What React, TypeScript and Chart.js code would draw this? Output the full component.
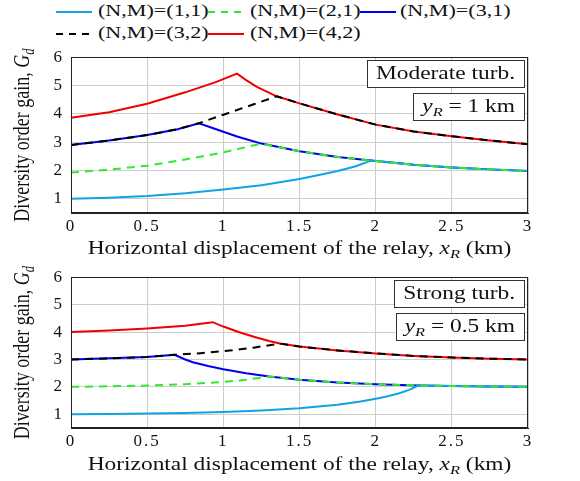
import { useEffect, useRef } from 'react';
import { Chart, registerables } from 'chart.js';

Chart.register(...registerables);

const FONT = '"Liberation Serif", "Times New Roman", serif';
const SX = 1.3;

const xTickValues = [0, 0.5, 1, 1.5, 2, 2.5, 3];
const yTickValues = [1, 2, 3, 4, 5, 6];
const xRange = [0, 3];
const yRange = [0.5, 6];

const seriesLabels = ['(N,M)=(1,1)', '(N,M)=(2,1)', '(N,M)=(3,1)', '(N,M)=(3,2)', '(N,M)=(4,2)'];
const seriesColors = ['#14a2e6', '#2eea2e', '#0000f0', '#000000', '#f20000'];
const seriesDashed = [false, true, false, true, false];
const seriesOrder = [3, 1, 5, 2, 4];

// Moderate turbulence, y_R = 1 km : [x_R (km), G_d]
const moderateN1M1: [number, number][] = [[0, 1.0], [0.25, 1.04], [0.5, 1.1], [0.75, 1.2], [1, 1.33], [1.25, 1.48], [1.5, 1.7], [1.62, 1.83], [1.75, 1.98], [1.87, 2.15], [1.97, 2.35], [2.25, 2.2], [2.5, 2.11], [2.75, 2.04], [3, 1.98]];
const moderateN2M1: [number, number][] = [[0, 1.93], [0.25, 2.03], [0.5, 2.17], [0.75, 2.39], [1, 2.64], [1.25, 2.95], [1.5, 2.68], [1.75, 2.48], [1.97, 2.35], [2.25, 2.2], [2.5, 2.11], [2.75, 2.04], [3, 1.98]];
const moderateN3M1: [number, number][] = [[0, 2.9], [0.25, 3.06], [0.5, 3.25], [0.7, 3.46], [0.84, 3.67], [0.92, 3.52], [1, 3.37], [1.09, 3.2], [1.25, 2.95], [1.5, 2.68], [1.75, 2.48], [1.97, 2.35], [2.25, 2.2], [2.5, 2.11], [2.75, 2.04], [3, 1.98]];
const moderateN3M2: [number, number][] = [[0, 2.9], [0.25, 3.06], [0.5, 3.25], [0.7, 3.46], [0.84, 3.67], [1, 3.97], [1.2, 4.34], [1.35, 4.62], [1.5, 4.37], [1.75, 3.98], [2, 3.62], [2.25, 3.38], [2.5, 3.21], [2.75, 3.06], [3, 2.93]];
const moderateN4M2: [number, number][] = [[0, 3.86], [0.25, 4.06], [0.5, 4.36], [0.75, 4.76], [0.95, 5.12], [1.09, 5.42], [1.15, 5.19], [1.22, 4.95], [1.35, 4.62], [1.5, 4.37], [1.75, 3.98], [2, 3.62], [2.25, 3.38], [2.5, 3.21], [2.75, 3.06], [3, 2.93]];

// Strong turbulence, y_R = 0.5 km : [x_R (km), G_d]
const strongN1M1: [number, number][] = [[0, 1.0], [0.25, 1.01], [0.5, 1.03], [0.75, 1.05], [1, 1.08], [1.25, 1.14], [1.5, 1.22], [1.75, 1.35], [1.9, 1.47], [2, 1.57], [2.08, 1.66], [2.15, 1.76], [2.22, 1.89], [2.28, 2.05], [2.5, 2.03], [2.75, 2.01], [3, 2.0]];
const strongN2M1: [number, number][] = [[0, 2.0], [0.25, 2.02], [0.5, 2.05], [0.75, 2.1], [1, 2.18], [1.15, 2.26], [1.3, 2.38], [1.5, 2.26], [1.75, 2.16], [2, 2.1], [2.28, 2.05], [2.5, 2.03], [2.75, 2.01], [3, 2.0]];
const strongN3M1: [number, number][] = [[0, 3.0], [0.25, 3.04], [0.5, 3.09], [0.68, 3.17], [0.75, 3.0], [0.8, 2.9], [0.9, 2.76], [1, 2.64], [1.15, 2.5], [1.3, 2.38], [1.5, 2.26], [1.75, 2.16], [2, 2.1], [2.28, 2.05], [2.5, 2.03], [2.75, 2.01], [3, 2.0]];
const strongN3M2: [number, number][] = [[0, 3.0], [0.25, 3.04], [0.5, 3.09], [0.68, 3.17], [0.85, 3.23], [1, 3.3], [1.2, 3.43], [1.37, 3.58], [1.5, 3.47], [1.75, 3.33], [2, 3.22], [2.25, 3.13], [2.5, 3.07], [2.75, 3.03], [3, 3.0]];
const strongN4M2: [number, number][] = [[0, 4.0], [0.25, 4.06], [0.5, 4.13], [0.75, 4.23], [0.93, 4.36], [1, 4.2], [1.1, 4.0], [1.2, 3.83], [1.3, 3.67], [1.37, 3.58], [1.5, 3.47], [1.75, 3.33], [2, 3.22], [2.25, 3.13], [2.5, 3.07], [2.75, 3.03], [3, 3.0]];

type Part = { t: string; it?: boolean; sub?: boolean };

const yTitleParts: Part[] = [{ t: 'Diversity order gain, ' }, { t: 'G', it: true }, { t: 'd', it: true, sub: true }];
const xTitleParts: Part[] = [{ t: 'Horizontal displacement of the relay, ' }, { t: 'x', it: true }, { t: 'R', it: true, sub: true }, { t: ' (km)' }];

function setPartFont(ctx: CanvasRenderingContext2D, p: Part, size: number) {
  const s = p.sub ? size * 0.7 : size;
  ctx.font = `${p.it ? 'italic ' : ''}${s}px ${FONT}`;
}
function measureParts(ctx: CanvasRenderingContext2D, parts: Part[], size: number) {
  let w = 0;
  for (const p of parts) {
    setPartFont(ctx, p, size);
    w += ctx.measureText(p.t).width;
  }
  return w;
}
function drawParts(ctx: CanvasRenderingContext2D, parts: Part[], x: number, y: number, size: number) {
  let cx = x;
  ctx.textAlign = 'left';
  ctx.textBaseline = 'alphabetic';
  for (const p of parts) {
    setPartFont(ctx, p, size);
    ctx.fillText(p.t, cx, p.sub ? y + size * 0.22 : y);
    cx += ctx.measureText(p.t).width;
  }
}

type PanelCfg = {
  id: string;
  top: number;
  height: number;
  padTop: number;
  xAxisH: number;
  titleBaseline: number;
  boxes: Part[][];
  series: [number, number][][];
};

const panels: PanelCfg[] = [
  {
    id: 'moderate', top: 40, height: 220, padTop: 16, xAxisH: 47, titleBaseline: 214,
    boxes: [[{ t: 'Moderate turb.' }], [{ t: 'y', it: true }, { t: 'R', it: true, sub: true }, { t: ' = 1 km' }]],
    series: [moderateN1M1, moderateN2M1, moderateN3M1, moderateN3M2, moderateN4M2],
  },
  {
    id: 'strong', top: 260, height: 221, padTop: 12, xAxisH: 53, titleBaseline: 210,
    boxes: [[{ t: 'Strong turb.' }], [{ t: 'y', it: true }, { t: 'R', it: true, sub: true }, { t: ' = 0.5 km' }]],
    series: [strongN1M1, strongN2M1, strongN3M1, strongN3M2, strongN4M2],
  },
];

function makeDecor(cfg: PanelCfg) {
  return {
    id: 'decor_' + cfg.id,
    beforeDraw(chart: any) {
      (chart.ctx as any).letterSpacing = '2px';
    },
    afterDraw(chart: any) {
      const ctx: CanvasRenderingContext2D = chart.ctx;
      const a = chart.chartArea;
      ctx.save();
      (ctx as any).letterSpacing = '0px';
      ctx.strokeStyle = '#222';
      ctx.lineWidth = 1;
      ctx.strokeRect(Math.round(a.left) + 0.5, Math.round(a.top) + 0.5, Math.round(a.right - a.left) - 1, Math.round(a.bottom - a.top) - 1);

      // boxes
      const size = 18;
      let by = a.top + 3;
      const bh = 27;
      for (const parts of cfg.boxes) {
        const w = measureParts(ctx, parts, size) * SX;
        const bw = w + 18;
        const bx = a.right - 4 - bw;
        ctx.fillStyle = '#fff';
        ctx.fillRect(bx, by, bw, bh);
        ctx.strokeStyle = '#333';
        ctx.lineWidth = 1;
        ctx.strokeRect(Math.round(bx) + 0.5, Math.round(by) + 0.5, Math.round(bw), bh);
        ctx.fillStyle = '#111';
        ctx.save();
        ctx.translate(bx + 9, by + 19);
        ctx.scale(SX, 1);
        drawParts(ctx, parts, 0, 0, size);
        ctx.restore();
        by += bh + 6;
      }

      // x title
      ctx.fillStyle = '#111';
      const xs = 18;
      const xw = measureParts(ctx, xTitleParts, xs);
      ctx.save();
      ctx.translate((a.left + a.right) / 2, cfg.titleBaseline);
      ctx.scale(SX, 1);
      drawParts(ctx, xTitleParts, -xw / 2, 0, xs);
      ctx.restore();

      // y title
      const yw = measureParts(ctx, yTitleParts, xs);
      ctx.save();
      ctx.translate(29, (a.top + a.bottom) / 2);
      ctx.scale(SX, 1);
      ctx.rotate(-Math.PI / 2);
      drawParts(ctx, yTitleParts, -yw / 2, 0, xs);
      ctx.restore();

      ctx.restore();
    },
  };
}

function Panel({ cfg }: { cfg: PanelCfg }) {
  const ref = useRef<HTMLCanvasElement>(null);
  useEffect(() => {
    const chart = new Chart(ref.current!, {
      type: 'line',
      data: {
        datasets: cfg.series.map((pts, i) => ({
          label: seriesLabels[i],
          data: pts.map(([x, y]) => ({ x, y })),
          borderColor: seriesColors[i],
          backgroundColor: seriesColors[i],
          borderWidth: 2,
          borderDash: seriesDashed[i] ? [8, 6] : [],
          pointRadius: 0,
          tension: 0,
          fill: false,
          order: seriesOrder[i],
        })),
      },
      options: {
        animation: false,
        responsive: false,
        events: [],
        layout: { padding: { top: cfg.padTop, left: 0, right: 52, bottom: 0 } },
        plugins: { legend: { display: false }, tooltip: { enabled: false } },
        scales: {
          x: {
            type: 'linear',
            min: xRange[0],
            max: xRange[1],
            afterBuildTicks: (s: any) => { s.ticks = xTickValues.map((v) => ({ value: v })); },
            afterFit: (s: any) => { s.height = cfg.xAxisH; },
            ticks: {
              font: { family: FONT, size: 17 },
              color: '#111',
              padding: 3,
              maxRotation: 0,
              autoSkip: false,
              callback: (v: any) => String(v),
            },
            grid: { color: '#cdcdcd', lineWidth: 1, drawTicks: false },
            border: { display: true, color: '#222' },
          },
          y: {
            type: 'linear',
            min: yRange[0],
            max: yRange[1],
            afterBuildTicks: (s: any) => { s.ticks = yTickValues.map((v) => ({ value: v })); },
            afterFit: (s: any) => { s.width = 71; },
            ticks: {
              font: { family: FONT, size: 17 },
              color: '#111',
              padding: 7,
              autoSkip: false,
              callback: (v: any) => String(v),
            },
            grid: { color: '#cdcdcd', lineWidth: 1, drawTicks: false },
            border: { display: true, color: '#222' },
          },
        },
      },
      plugins: [makeDecor(cfg)],
    } as any);
    return () => chart.destroy();
  }, [cfg]);
  return (
    <canvas
      ref={ref}
      width={580}
      height={cfg.height}
      style={{ position: 'absolute', left: 0, top: cfg.top, width: 580, height: cfg.height }}
    />
  );
}

const legendSlots = [
  { lineX: 56, textX: 98, row: 0 },
  { lineX: 208, textX: 250, row: 0 },
  { lineX: 360, textX: 400, row: 0 },
  { lineX: 56, textX: 98, row: 1 },
  { lineX: 208, textX: 250, row: 1 },
];
const legendRowY = [12, 34];

function Legend() {
  return (
    <>
      {seriesLabels.map((label, i) => {
        const s = legendSlots[i];
        const cy = legendRowY[s.row];
        const c = seriesColors[i];
        return (
          <div key={label}>
            <div
              style={{
                position: 'absolute',
                left: s.lineX,
                top: cy - 1,
                width: 36,
                height: 2,
                background: seriesDashed[i]
                  ? `repeating-linear-gradient(to right, ${c} 0px, ${c} 7px, transparent 7px, transparent 13px)`
                  : c,
              }}
            />
            <span
              style={{
                position: 'absolute',
                left: s.textX,
                top: cy - 10,
                fontFamily: FONT,
                fontSize: 17,
                lineHeight: 1,
                whiteSpace: 'nowrap',
                color: '#111',
                transform: `scaleX(${SX})`,
                transformOrigin: 'left center',
              }}
            >
              {label}
            </span>
          </div>
        );
      })}
    </>
  );
}

export default function App() {
  return (
    <div style={{ position: 'absolute', left: 0, top: 0, width: 580, height: 481, background: '#fff', overflow: 'hidden' }}>
      <Legend />
      {panels.map((p) => (
        <Panel key={p.id} cfg={p} />
      ))}
    </div>
  );
}
